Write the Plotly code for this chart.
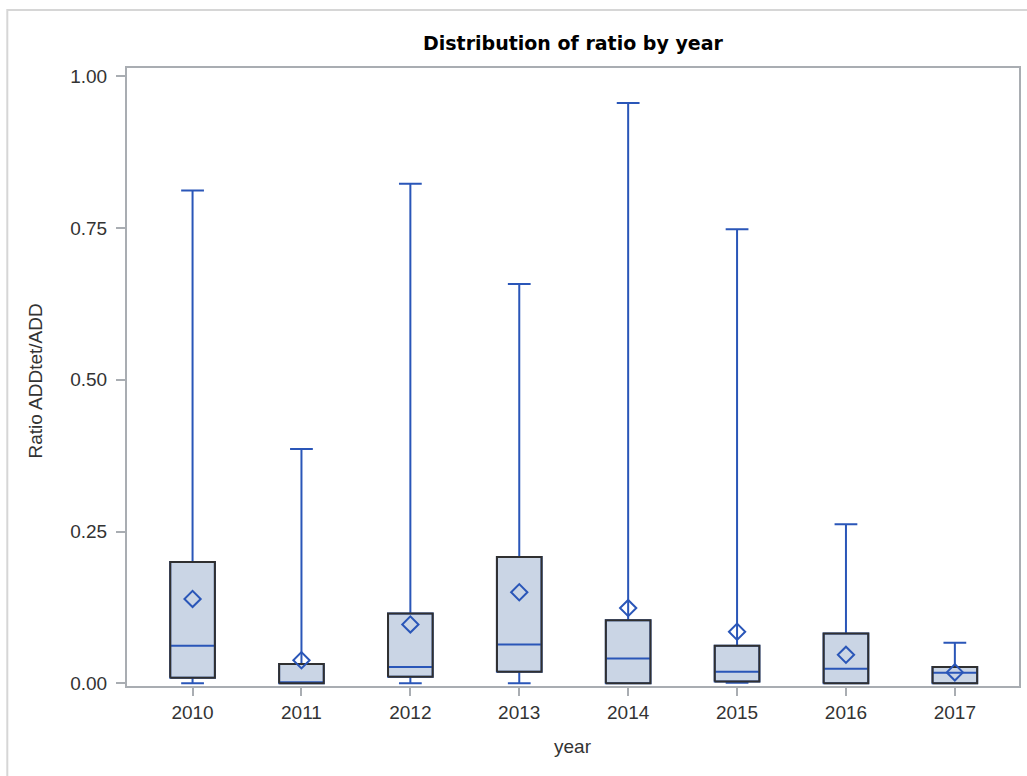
import plotly.graph_objects as go

years = ["2010", "2011", "2012", "2013", "2014", "2015", "2016", "2017"]
q1 = [0.009, 0.0, 0.011, 0.019, 0.0, 0.003, 0.0, 0.0]
median = [0.062, 0.0, 0.027, 0.064, 0.041, 0.019, 0.024, 0.0175]
q3 = [0.200, 0.032, 0.115, 0.208, 0.104, 0.062, 0.082, 0.027]
lower = [0.0, 0.0, 0.0, 0.0, 0.0, 0.001, 0.0, 0.0]
upper = [0.812, 0.386, 0.823, 0.658, 0.956, 0.748, 0.262, 0.067]
mean = [0.139, 0.038, 0.097, 0.150, 0.124, 0.085, 0.047, 0.018]
yticks = [0.0, 0.25, 0.50, 0.75, 1.00]

BLUE = "#2A56B8"
FILL = "#CAD5E5"
DARK = "#303030"
AXIS = "#A9ADB2"
TXT = "#333333"
BOXW = 0.41

pos = list(range(len(years)))

fig = go.Figure()
fig.add_trace(go.Box(
    x=pos, q1=q1, median=median, q3=q3, lowerfence=lower, upperfence=upper,
    width=BOXW, whiskerwidth=0.51, fillcolor=FILL,
    line=dict(color=BLUE, width=2), boxpoints=False, showlegend=False,
))

# black box outlines derived from q1/q3
ox, oy = [], []
for p, a, b in zip(pos, q1, q3):
    l, r = p - BOXW / 2, p + BOXW / 2
    ox += [l, r, r, l, l, None]
    oy += [a, a, b, b, a, None]
fig.add_trace(go.Scatter(x=ox, y=oy, mode="lines", line=dict(color=DARK, width=2),
                         showlegend=False, hoverinfo="skip"))

fig.add_trace(go.Scatter(
    x=pos, y=mean, mode="markers", showlegend=False,
    marker=dict(symbol="diamond-open", size=12.5, color=BLUE, line=dict(color=BLUE, width=2)),
))

fig.update_layout(
    width=1027, height=776,
    margin=dict(l=127, r=6, t=68, b=90),
    paper_bgcolor="white", plot_bgcolor="white",
    font=dict(family="Liberation Sans, Arial, sans-serif", size=19, color=TXT),
    showlegend=False,
)
fig.update_xaxes(
    range=[-0.602, 7.589], tickmode="array", tickvals=pos, ticktext=years,
    showline=True, mirror=True, linecolor=AXIS, linewidth=2,
    ticks="outside", ticklen=8, tickwidth=1.5, tickcolor=AXIS,
    showgrid=False, zeroline=False, fixedrange=True,
)
fig.update_yaxes(
    range=[-0.0044, 1.0137], tickmode="array", tickvals=yticks, tickformat=".2f",
    showline=True, mirror=True, linecolor=AXIS, linewidth=2,
    ticks="outside", ticklen=9, tickwidth=1.5, tickcolor=AXIS, ticklabelstandoff=5,
    showgrid=False, zeroline=False, fixedrange=True,
)

fig.add_annotation(text="<b>Distribution of ratio by year</b>", xref="paper", yref="paper",
                   x=0.5, y=1.0405, showarrow=False, xanchor="center", yanchor="middle",
                   font=dict(family="DejaVu Sans", size=19, color="#000000"))
fig.add_annotation(text="year", xref="paper", yref="paper", x=0.5, y=-0.0987,
                   showarrow=False, xanchor="center", yanchor="middle",
                   font=dict(size=19, color=TXT))
fig.add_annotation(text="Ratio ADDtet/ADD", xref="paper", yref="paper", x=-0.1029, y=0.493,
                   showarrow=False, xanchor="center", yanchor="middle", textangle=-90,
                   font=dict(size=19, color=TXT))

# outer light border of the graph frame
fig.add_shape(type="rect", xref="paper", yref="paper",
              x0=-0.1342, x1=1.2, y0=-0.3, y1=1.0939,
              line=dict(color="#D6D6D6", width=2), fillcolor="rgba(0,0,0,0)", layer="below")

fig.write_html("out.html", config={"displayModeBar": False},
               post_script="document.body.style.margin='0px';")
